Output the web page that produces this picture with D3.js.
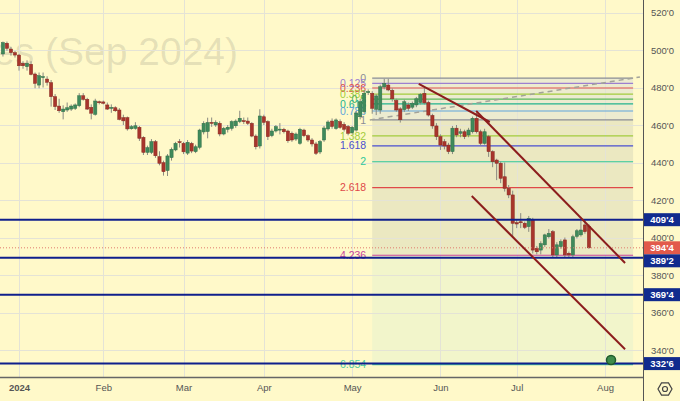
<!DOCTYPE html>
<html><head><meta charset="utf-8">
<script src="https://cdn.jsdelivr.net/npm/d3@7"></script>
<style>html,body{margin:0;padding:0;background:#fff9c9;overflow:hidden}</style>
</head><body><svg id="c" width="680" height="401"></svg>
<script>
// ---------- DATA ----------
const firstIndex = -4; // trading-day index of the first candle (Jan 2 2024 = 0)
const openP = [497.9,503.6,500.5,498.6,497.3,492.9,491.1,492.4,487.2,481.3,485.5,484.5,482.6,475.1,470.1,467.1,468.0,468.5,468.9,470.3,475.6,473.7,469.4,465.7,472.4,472.3,470.7,469.2,469.2,468.0,463.9,463.9,458.0,458.2,458.8,453.4,445.4,445.4,451.1,443.1,439.9,435.7,442.6,446.7,451.1,450.2,445.0,450.2,445.8,448.1,456.3,456.5,461.4,460.0,460.9,455.2,457.7,458.2,459.6,461.8,462.3,462.1,460.9,454.1,448.8,464.4,461.8,454.3,456.8,457.7,457.7,456.8,455.6,452.5,450.2,457.3,454.3,452.0,449.9,445.6,452.0,457.9,462.1,458.1,461.8,460.3,459.2,455.9,457.3,464.4,467.1,477.6,476.9,468.4,468.0,480.3,481.3,478.5,473.1,468.6,468.2,470.7,469.5,470.7,472.0,476.9,472.0,465.1,459.5,453.8,451.1,449.3,445.8,458.3,455.6,456.4,454.7,456.4,463.6,456.4,450.2,453.8,445.8,441.3,439.6,432.4,426.2,422.7,407.9,408.4,407.6,405.8,409.3,394.2,393.3,396.1,400.4,403.1,390.7,395.1,398.7,391.6,390.7,400.6,401.4,406.7,405.8];
const highP = [504.5,504.5,501.7,499.5,498.0,494.0,494.5,494.0,488.0,488.0,488.0,486.0,484.0,476.5,474.0,470.5,472.0,471.0,471.5,477.0,477.0,474.5,471.0,474.0,473.0,473.0,472.0,471.0,470.0,469.0,465.5,464.5,460.0,461.5,459.5,454.0,449.0,452.5,452.0,446.0,441.0,444.5,448.0,451.0,452.5,451.0,452.0,451.0,449.5,458.0,462.0,463.9,464.0,462.5,462.0,459.0,460.0,462.5,463.0,467.6,464.0,464.0,461.5,455.0,468.4,465.5,462.5,458.0,460.0,461.0,458.5,457.5,456.5,456.0,458.5,458.0,455.0,453.0,451.0,452.0,459.5,462.5,463.5,463.5,463.0,461.5,460.0,459.5,467.5,474.0,478.7,479.0,478.0,476.5,481.5,484.6,484.6,479.5,474.0,469.5,473.5,472.0,472.5,475.0,477.0,480.4,473.0,466.0,461.0,455.0,452.5,450.5,459.5,460.0,458.0,457.5,458.5,464.5,466.4,457.5,458.0,454.7,446.5,442.0,440.5,440.0,428.0,425.0,409.5,413.0,408.5,411.5,410.5,395.5,398.0,402.0,404.5,404.0,397.5,399.0,400.0,392.5,401.5,404.5,409.0,409.5,407.0];
const lowP = [496.5,499.6,497.0,496.0,489.0,490.0,489.0,486.5,479.6,479.6,480.0,481.0,469.8,468.0,466.5,463.0,467.0,467.5,468.0,469.5,473.0,468.0,463.0,465.0,471.0,471.0,468.0,466.5,467.0,462.5,460.0,457.0,457.5,457.5,451.5,444.0,444.0,444.5,442.5,438.5,433.0,432.8,441.0,446.0,448.0,444.5,444.0,445.0,445.0,447.0,455.0,452.9,459.0,459.0,454.0,454.5,456.0,457.0,458.5,461.0,460.5,460.0,453.5,447.0,447.5,460.0,452.0,453.5,456.0,455.0,455.5,450.5,451.0,451.5,449.5,453.5,451.0,448.5,444.0,444.5,451.0,457.0,458.0,457.5,458.0,456.5,454.5,455.0,456.5,463.0,466.0,476.0,466.0,465.3,466.0,479.0,478.0,472.5,467.0,461.3,467.0,467.5,468.5,469.5,471.0,471.0,464.5,458.0,452.0,446.7,447.0,444.5,444.5,453.5,453.5,452.5,453.5,455.5,455.5,449.0,449.5,443.0,437.5,430.6,429.0,424.5,421.0,400.5,405.0,405.0,404.5,403.0,391.5,391.0,391.0,395.0,399.5,389.5,389.5,394.0,389.5,389.5,389.5,399.5,400.5,402.0,394.0];
const closeP = [503.9,500.9,498.6,497.3,491.6,491.6,492.9,487.0,482.2,486.3,485.8,482.8,475.1,469.8,467.6,468.5,469.2,470.1,470.7,475.6,473.7,468.5,466.3,472.8,471.9,471.6,468.5,469.4,467.6,463.0,462.2,457.9,459.1,459.6,452.9,445.4,447.9,451.1,443.6,439.6,435.1,443.5,447.0,450.2,450.6,445.7,450.8,446.1,448.4,457.3,460.9,461.3,460.9,461.4,455.2,458.2,458.8,461.8,462.1,463.6,461.8,460.9,454.1,448.4,464.8,461.4,453.8,456.8,459.1,457.8,456.4,451.6,452.0,455.2,457.7,454.3,452.0,449.9,444.9,451.2,458.4,461.6,459.2,462.7,458.7,457.7,455.6,458.8,466.4,472.4,476.9,477.8,468.9,475.5,480.4,482.2,478.7,474.0,468.0,462.8,472.4,468.9,471.5,474.0,476.3,471.8,465.3,459.5,453.8,449.3,448.8,445.8,458.3,454.7,456.4,453.8,457.3,463.6,456.4,450.2,456.4,445.8,440.4,439.6,431.6,426.2,422.7,407.6,407.2,408.0,405.4,410.2,393.3,392.4,396.7,401.4,402.2,390.7,396.1,397.8,390.7,390.7,400.4,403.6,404.0,403.1,394.5];

const monthLabels = ["2024","Feb","Mar","Apr","May","Jun","Jul","Aug"];
const monthIndex  = [0,21,41,61,83,105,124,146];
const priceTicks  = [340,360,380,400,420,440,460,480,500,520];

const keyLevels = [409.5, 389.25, 369.5, 332.75];
const lastPrice = 394.5;

const fibLevels = [0,0.125,0.236,0.382,0.5,0.618,0.786,1,1.382,1.618,2,2.618,4.236,6.854];
const fibColors = ["#8a8c96","#9d7fd0","#e0504a","#a3cc3c","#5cb85c","#22b38e","#5ea6dc","#8a8c96","#a3cc3c","#4a4fd0","#2ec79a","#e04848","#c8409a","#4ccc9c"];
const fibPrice0 = 485.0, fibPrice1 = 462.7;
const fibStartIdx = 88, fibEndIdx = 153;

const trendLines = [
  [[99.6,481.9],[117.3,461.6]],
  [[113.9,467.5],[151.0,386.4]],
  [[112.8,422.1],[151.0,340.4]]
];
const dashedLine = [[87.4,462.7],[154.7,485.6]];
const targetPoint = [147.5,334.7];

// ---------- CHART ----------
const W=680,H=401,plotR=643,plotB=377;
const FONT="'Liberation Sans', Arial, sans-serif";
const x = d3.scaleLinear().domain([0,146]).range([19,605]);
const y = d3.scaleLinear().domain([340,520]).range([350,12.5]);
const fmt = p => Math.floor(p) + "'" + Math.round((p-Math.floor(p))*8);
const fibPrice = L => fibPrice0 + L*(fibPrice1-fibPrice0);

const svg = d3.select('#c');
svg.append('rect').attr('width',W).attr('height',H).attr('fill','#fff9c9');
svg.append('defs').append('clipPath').attr('id','clip')
  .append('rect').attr('width',plotR).attr('height',plotB);
const g = svg.append('g').attr('clip-path','url(#clip)');

// watermark
g.append('text').attr('x',238).attr('y',65).attr('text-anchor','end')
  .attr('font-family',FONT).attr('font-size',39).attr('fill','rgba(90,90,90,0.16)')
  .text('Soybean Futures (Sep 2024)');

// fib shaded bands
const bands = [[0,1,'#ecebd0'],[1,4.236,'#ebe8c1'],[4.236,6.854,'#f2f5cb']];
g.selectAll('rect.band').data(bands).join('rect').attr('class','band')
  .attr('x',x(fibStartIdx)).attr('width',x(fibEndIdx)-x(fibStartIdx))
  .attr('y',d=>y(fibPrice(d[0]))).attr('height',d=>y(fibPrice(d[1]))-y(fibPrice(d[0])))
  .attr('fill',d=>d[2]);

// grid
g.selectAll('line.hg').data(priceTicks).join('line').attr('class','hg')
  .attr('x1',0).attr('x2',plotR).attr('y1',d=>Math.round(y(d))+0.5).attr('y2',d=>Math.round(y(d))+0.5)
  .attr('stroke','#e4e3d6').attr('stroke-width',1);
g.selectAll('line.vg').data(monthIndex).join('line').attr('class','vg')
  .attr('y1',0).attr('y2',plotB).attr('x1',d=>Math.round(x(d))+0.5).attr('x2',d=>Math.round(x(d))+0.5)
  .attr('stroke','#e4e3d6').attr('stroke-width',1);

// fib lines + labels
fibLevels.forEach((L,i)=>{
  const yy = y(fibPrice(L));
  g.append('line').attr('x1',x(fibStartIdx)).attr('x2',x(fibEndIdx))
    .attr('y1',yy).attr('y2',yy).attr('stroke',fibColors[i]).attr('stroke-width',1.2);
  g.append('text').attr('x',x(fibStartIdx)-6).attr('y',yy).attr('dy','0.35em')
    .attr('text-anchor','end').attr('font-family',FONT).attr('font-size',10.5)
    .attr('fill',fibColors[i]).text(String(L));
});

// dashed gray line
g.append('line').attr('x1',x(dashedLine[0][0])).attr('y1',y(dashedLine[0][1]))
  .attr('x2',x(dashedLine[1][0])).attr('y2',y(dashedLine[1][1]))
  .attr('stroke','#a3a39a').attr('stroke-width',1.5).attr('stroke-dasharray','5,4');

// candles
const candles = openP.map((o,i)=>({i:i+firstIndex,o,h:highP[i],l:lowP[i],c:closeP[i]}));
const cg = g.append('g');
cg.selectAll('line.w').data(candles).join('line').attr('class','w')
  .attr('x1',d=>x(d.i)).attr('x2',d=>x(d.i)).attr('y1',d=>y(d.h)).attr('y2',d=>y(d.l))
  .attr('stroke','#8a8a80').attr('stroke-width',1);
cg.selectAll('rect.b').data(candles).join('rect').attr('class','b')
  .attr('x',d=>x(d.i)-1.6).attr('width',3.2)
  .attr('y',d=>y(Math.max(d.o,d.c))).attr('height',d=>Math.max(1,Math.abs(y(d.o)-y(d.c))))
  .attr('fill',d=>d.c>=d.o?'#3f8a5b':'#a8352c')
  .attr('stroke',d=>d.c>=d.o?'#2f6e48':'#862820').attr('stroke-width',0.5);

// last price dotted line
g.append('line').attr('x1',0).attr('x2',plotR).attr('y1',y(lastPrice)).attr('y2',y(lastPrice))
  .attr('stroke','#e07a6c').attr('stroke-width',1).attr('stroke-dasharray','1,2');

// key horizontal levels
g.selectAll('line.kl').data(keyLevels).join('line').attr('class','kl')
  .attr('x1',0).attr('x2',plotR).attr('y1',d=>y(d)).attr('y2',d=>y(d))
  .attr('stroke','#0f1f8c').attr('stroke-width',2);

// trend lines
g.selectAll('line.tl').data(trendLines).join('line').attr('class','tl')
  .attr('x1',d=>x(d[0][0])).attr('y1',d=>y(d[0][1]))
  .attr('x2',d=>x(d[1][0])).attr('y2',d=>y(d[1][1]))
  .attr('stroke','#8c1d1d').attr('stroke-width',2);

// target circle
g.append('circle').attr('cx',x(targetPoint[0])).attr('cy',y(targetPoint[1])).attr('r',4.5)
  .attr('fill','#3f8c4c').attr('stroke','#1f5a2c').attr('stroke-width',1.5);

// ---------- AXES ----------
const yAxis = d3.axisRight(y).tickValues(priceTicks).tickSize(0).tickPadding(8).tickFormat(fmt);
const ya = svg.append('g').attr('transform',`translate(${plotR},0)`).call(yAxis);
ya.select('.domain').remove();
ya.selectAll('text').attr('font-family',FONT).attr('font-size',9.5).attr('fill','#555');

const xAxis = d3.axisBottom(x).tickValues(monthIndex).tickSize(0).tickPadding(7)
  .tickFormat((d,i)=>monthLabels[i]);
const xa = svg.append('g').attr('transform',`translate(0,${plotB})`).call(xAxis);
xa.select('.domain').remove();
xa.selectAll('text').attr('font-family',FONT).attr('font-size',9.5).attr('fill','#555')
  .attr('font-weight',(d,i)=>i===0?'bold':'normal');

svg.append('line').attr('x1',plotR+0.5).attr('x2',plotR+0.5).attr('y1',0).attr('y2',H)
  .attr('stroke','#555').attr('stroke-width',1);
svg.append('line').attr('x1',0).attr('x2',plotR).attr('y1',plotB+0.5).attr('y2',plotB+0.5)
  .attr('stroke','#666').attr('stroke-width',1.5);

// price badges
const badges = keyLevels.map(v=>({v,col:'#112b8e'})).concat([{v:lastPrice,col:'#e25a4b'}])
  .map(d=>({...d,yy:y(d.v)})).sort((a,b)=>a.yy-b.yy);
for(let i=1;i<badges.length;i++){ if(badges[i].yy-badges[i-1].yy<13) badges[i].yy=badges[i-1].yy+13; }
const bg = svg.append('g');
badges.forEach(d=>{
  bg.append('rect').attr('x',plotR+1).attr('y',d.yy-6.5).attr('width',W-plotR-1).attr('height',13).attr('fill',d.col);
  bg.append('text').attr('x',(plotR+1+W)/2).attr('y',d.yy).attr('dy','0.35em').attr('text-anchor','middle')
    .attr('font-family',FONT).attr('font-size',9.5).attr('font-weight','bold').attr('fill','#fff').text(fmt(d.v));
});

// settings icon
const cx=665, cy=389, r=7;
const hex = d3.range(6).map(k=>[cx+r*Math.cos(Math.PI/3*k), cy+r*Math.sin(Math.PI/3*k)]);
svg.append('path').attr('d',d3.line()(hex)+'Z').attr('fill','none').attr('stroke','#444').attr('stroke-width',1.2);
svg.append('circle').attr('cx',cx).attr('cy',cy).attr('r',2.5).attr('fill','none').attr('stroke','#444').attr('stroke-width',1.2);
</script></body></html>
